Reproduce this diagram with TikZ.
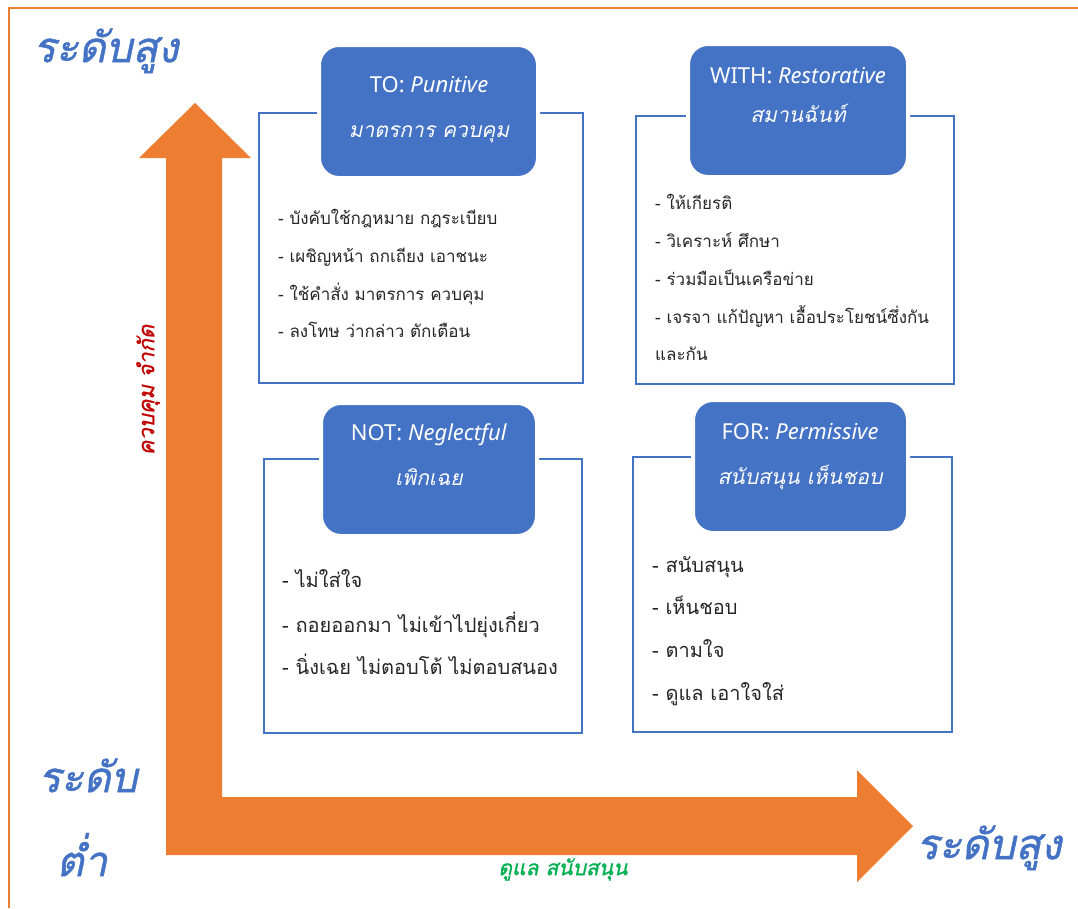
\documentclass[tikz,border=0pt]{standalone}
\usepackage{fontspec}
\newfontfamily\thai[Script=Thai,ItalicFont={* Oblique},BoldFont={* Bold},BoldItalicFont={* Bold Oblique}]{Loma}
\newfontfamily\thaiheavy[Script=Thai,FakeBold=1.1]{Loma Oblique}
\newfontfamily\thaisemi[Script=Thai,FakeBold=1]{Loma Oblique}
\newfontfamily\latin{Noto Sans}
\definecolor{accent}{HTML}{4472C4}
\definecolor{arrowfill}{HTML}{ED7D31}
\definecolor{redtxt}{HTML}{C00000}
\definecolor{greentxt}{HTML}{00B050}
\definecolor{bodytxt}{HTML}{262626}
\tikzset{
  panel/.style={draw=accent, line width=1.8pt},
  header/.style={fill=accent, draw=white, line width=4pt, rounded corners=20pt},
  title/.style={anchor=mid, text=white, font=\latin\fontsize{22}{26}\selectfont, inner sep=0pt},
  subtitle/.style={anchor=mid, text=white, font=\thai\itshape\fontsize{21}{24}\selectfont, inner sep=0pt},
  item/.style={anchor=mid west, text=bodytxt, font=\thai\fontsize{17}{20}\selectfont, inner sep=0pt},
  bigitem/.style={item, font=\thai\fontsize{20}{24}\selectfont},
  level/.style={anchor=mid, text=accent, font=\thaiheavy\fontsize{42}{48}\selectfont, inner sep=0pt},
  axislabel/.style={anchor=mid, font=\thaisemi\fontsize{22}{24}\selectfont, inner sep=0pt},
}
\begin{document}
\begin{tikzpicture}[x=1pt, y=-1pt]
\useasboundingbox (0,0) rectangle (1078,908);
\fill[white] (0,0) rectangle (1078,908);

% outer frame (top and left edges)
\draw[arrowfill, line width=2pt] (9,908) -- (9,8) -- (1078,8);

% bent double axis arrow
\fill[arrowfill] (166,855) -- (166,158) -- (139,158) -- (195,103) -- (251,158)
  -- (222,158) -- (222,797) -- (857,797) -- (857,770) -- (913,826)
  -- (857,882) -- (857,855) -- cycle;

% axis labels
\node[level] (hiY) at (106,60) {ระดับสูง};
\node[level] (lo1) at (88,790) {ระดับ};
\node[level] (lo2) at (82,874) {ต่ำ};
\node[level] (hiX) at (989,857) {ระดับสูง};
\node[axislabel, rotate=90, text=redtxt] (ylab) at (152,390) {ควบคุม จำกัด};
\node[axislabel, text=greentxt, font=\thaisemi\fontsize{21}{24}\selectfont] (xlab) at (563,873) {ดูแล สนับสนุน};

% TO: Punitive
\draw[panel] (259,113) rectangle (583,383);
\draw[header] (319,45) rectangle (538,178);
\node[title] (toT) at (429,90) {TO: \textit{Punitive}};
\node[subtitle] (toS) at (429,135) {มาตรการ ควบคุม};
\node[item] (to1) at (278,222) {- บังคับใช้กฎหมาย กฎระเบียบ};
\node[item] (to2) at (278,260) {- เผชิญหน้า ถกเถียง เอาชนะ};
\node[item] (to3) at (278,298) {- ใช้คำสั่ง มาตรการ ควบคุม};
\node[item] (to4) at (278,335) {- ลงโทษ ว่ากล่าว ตักเตือน};

% WITH: Restorative
\draw[panel] (636,116) rectangle (954,384);
\draw[header] (688,44) rectangle (908,177);
\node[title] (wiT) at (798,81) {WITH: \textit{Restorative}};
\node[subtitle] (wiS) at (798,120) {สมานฉันท์};
\node[item] (wi1) at (655,207) {- ให้เกียรติ};
\node[item] (wi2) at (655,245) {- วิเคราะห์ ศึกษา};
\node[item] (wi3) at (655,283) {- ร่วมมือเป็นเครือข่าย};
\node[item] (wi4) at (655,321) {- เจรจา แก้ปัญหา เอื้อประโยชน์ซึ่งกัน};
\node[item] (wi5) at (655,358) {และกัน};

% NOT: Neglectful
\draw[panel] (264,459) rectangle (582,733);
\draw[header] (321,403) rectangle (537,536);
\node[title] (noT) at (429,438) {NOT: \textit{Neglectful}};
\node[subtitle] (noS) at (429,483) {เพิกเฉย};
\node[bigitem] (no1) at (282,585) {- ไม่ใส่ใจ};
\node[bigitem] (no2) at (282,630) {- ถอยออกมา ไม่เข้าไปยุ่งเกี่ยว};
\node[bigitem] (no3) at (282,672) {- นิ่งเฉย ไม่ตอบโต้ ไม่ตอบสนอง};

% FOR: Permissive
\draw[panel] (633,457) rectangle (952,732);
\draw[header] (693,400) rectangle (908,533);
\node[title] (foT) at (800,437) {FOR: \textit{Permissive}};
\node[subtitle] (foS) at (800,482) {สนับสนุน เห็นชอบ};
\node[bigitem] (fo1) at (652,570) {- สนับสนุน};
\node[bigitem] (fo2) at (652,612) {- เห็นชอบ};
\node[bigitem] (fo3) at (652,655) {- ตามใจ};
\node[bigitem] (fo4) at (652,698) {- ดูแล เอาใจใส่};
\end{tikzpicture}
\end{document}
